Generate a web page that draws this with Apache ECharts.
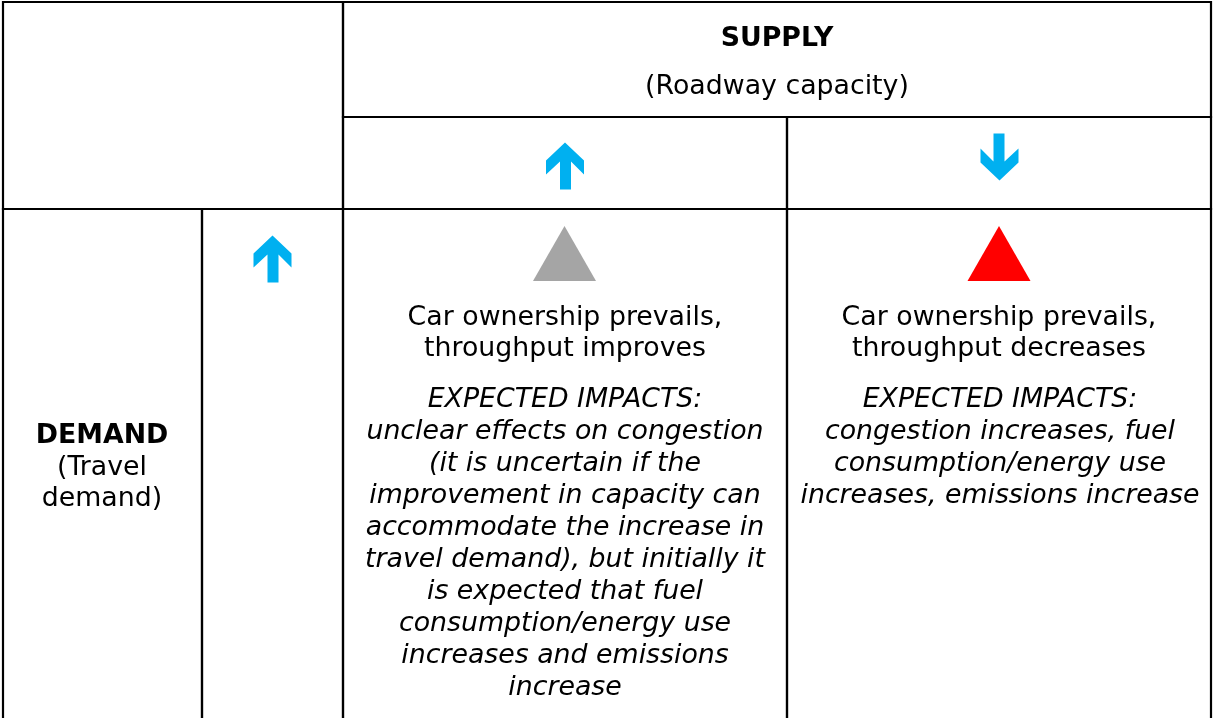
<!DOCTYPE html>
<html>
<head>
<meta charset="utf-8">
<script src="https://cdn.jsdelivr.net/npm/echarts@6/dist/echarts.min.js"></script>
<style>
  html, body { margin: 0; padding: 0; background: #ffffff; }
  #chart { width: 1213px; height: 718px; }
</style>
</head>
<body>
<div id="chart"></div>
<script>
// table frame (in picture units)
const colEdges = [3, 202, 343, 787, 1211];
const rowEdges = [2, 117, 209, 722];
// each cell: [firstCol, lastCol, firstRow, lastRow] as indexes into the edges
const cells = [
  [0, 2, 0, 2],
  [2, 4, 0, 1],
  [2, 3, 1, 2],
  [3, 4, 1, 2],
  [0, 1, 2, 3],
  [1, 2, 2, 3],
  [2, 3, 2, 3],
  [3, 4, 2, 3],
];

const supplyLines = ['SUPPLY', '(Roadway capacity)'];
const demandLines = ['DEMAND', '(Travel', 'demand)'];
const improvesLines = ['Car ownership prevails,', 'throughput improves'];
const decreasesLines = ['Car ownership prevails,', 'throughput decreases'];
const improvesImpacts = [
  'EXPECTED IMPACTS:',
  'unclear effects on congestion',
  '(it is uncertain if the',
  'improvement in capacity can',
  'accommodate the increase in',
  'travel demand), but initially it',
  'is expected that fuel',
  'consumption/energy use',
  'increases and emissions',
  'increase',
];
const decreasesImpacts = [
  'EXPECTED IMPACTS:',
  'congestion increases, fuel',
  'consumption/energy use',
  'increases, emissions increase',
];

// markers: [x, y] centres
const upArrows = [[565, 166], [272.5, 259]];
const downArrows = [[999.5, 157]];
const neutralTriangle = [[564.5, 253.5]];
const worseTriangle = [[999, 253.5]];

const FONT = '"DejaVu Sans", Verdana, sans-serif';
const ARROW = 'path://M19,0 L38,18 L38,32 L25,19 L25,47 L14,47 L14,19 L0,32 L0,18 Z';

const cellData = cells.map((c) => [colEdges[c[0]], colEdges[c[1]], rowEdges[c[2]], rowEdges[c[3]]]);

const textItems = [];
function addBlock(lines, x, y0, step, weight, style) {
  lines.forEach((line, i) => {
    textItems.push({ x: x, y: y0 + i * step, text: line, weight: weight, style: style });
  });
}
addBlock(supplyLines.slice(0, 1), 777, 39, 0, 'bold', 'normal');
addBlock(supplyLines.slice(1), 777, 87, 0, 'normal', 'normal');
addBlock(demandLines.slice(0, 1), 102, 436, 0, 'bold', 'normal');
addBlock(demandLines.slice(1), 102, 468, 31.5, 'normal', 'normal');
addBlock(improvesLines, 565, 318, 31.5, 'normal', 'normal');
addBlock(decreasesLines, 999, 318, 31.5, 'normal', 'normal');
addBlock(improvesImpacts, 565, 400, 32, 'normal', 'italic');
addBlock(decreasesImpacts, 1000, 400, 32, 'normal', 'italic');

const chart = echarts.init(document.getElementById('chart'), null, { renderer: 'canvas' });

chart.setOption({
  animation: false,
  backgroundColor: '#ffffff',
  grid: { left: 0, right: 0, top: 0, bottom: 0 },
  xAxis: { type: 'value', min: 0, max: 1213, show: false },
  yAxis: { type: 'value', min: 0, max: 718, inverse: true, show: false },
  series: [
    {
      type: 'custom',
      data: cellData,
      silent: true,
      renderItem: (params, api) => {
        const a = api.coord([api.value(0), api.value(2)]);
        const b = api.coord([api.value(1), api.value(3)]);
        return {
          type: 'rect',
          shape: { x: a[0], y: a[1], width: b[0] - a[0], height: b[1] - a[1] },
          style: { fill: 'none', stroke: '#000000', lineWidth: 2.2 },
        };
      },
    },
    {
      type: 'custom',
      data: textItems.map((t) => [t.x, t.y]),
      silent: true,
      renderItem: (params, api) => {
        const t = textItems[params.dataIndex];
        const p = api.coord([api.value(0), api.value(1)]);
        return {
          type: 'text',
          x: p[0],
          y: p[1],
          scaleX: 1.03,
          style: {
            text: t.text,
            fill: '#000000',
            font: `${t.style} ${t.weight} 26px ${FONT}`,
            align: 'center',
            verticalAlign: 'middle',
          },
        };
      },
    },
    {
      type: 'scatter',
      data: upArrows,
      symbol: ARROW,
      symbolSize: [38, 47],
      itemStyle: { color: '#00b0f0', opacity: 1 },
      silent: true,
    },
    {
      type: 'scatter',
      data: downArrows,
      symbol: ARROW,
      symbolRotate: 180,
      symbolSize: [38, 47],
      itemStyle: { color: '#00b0f0', opacity: 1 },
      silent: true,
    },
    {
      type: 'scatter',
      data: neutralTriangle,
      symbol: 'triangle',
      symbolSize: [63, 55],
      itemStyle: { color: '#a5a5a5', opacity: 1 },
      silent: true,
    },
    {
      type: 'scatter',
      data: worseTriangle,
      symbol: 'triangle',
      symbolSize: [63, 55],
      itemStyle: { color: '#ff0000', opacity: 1 },
      silent: true,
    },
  ],
});
</script>
</body>
</html>
